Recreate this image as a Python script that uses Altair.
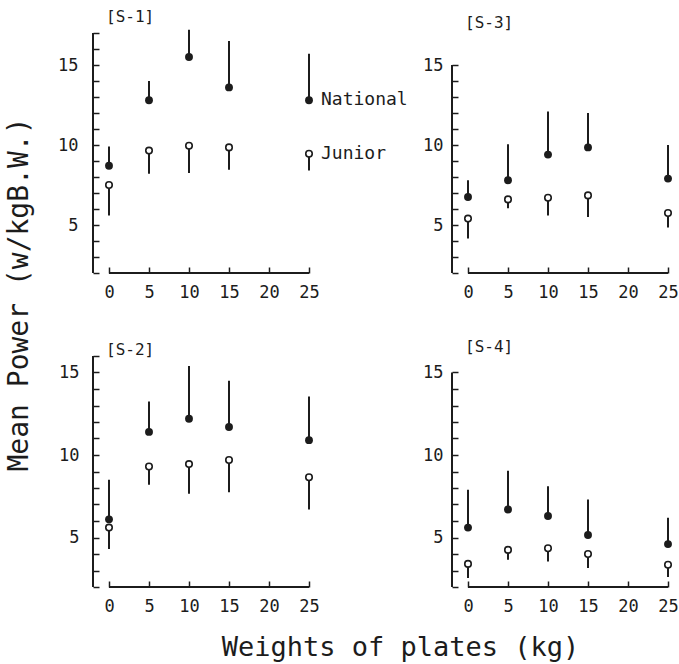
import altair as alt
import pandas as pd

# ---------------- data ----------------
weights = [0, 5, 10, 15, 25]
x_ticks = [0, 5, 10, 15, 20, 25]

s1_nat = [8.7, 12.8, 15.5, 13.6, 12.8]
s1_nat_hi = [9.9, 14.0, 17.2, 16.5, 15.7]
s1_jun = [7.5, 9.65, 9.95, 9.85, 9.45]
s1_jun_lo = [5.6, 8.2, 8.25, 8.45, 8.4]

s3_nat = [6.75, 7.8, 9.4, 9.85, 7.9]
s3_nat_hi = [7.8, 10.05, 12.1, 12.0, 10.0]
s3_jun = [5.4, 6.6, 6.7, 6.85, 5.75]
s3_jun_lo = [4.15, 6.05, 5.6, 5.5, 4.85]

s2_nat = [6.1, 11.4, 12.2, 11.7, 10.9]
s2_nat_hi = [8.5, 13.25, 15.4, 14.5, 13.55]
s2_jun = [5.6, 9.3, 9.45, 9.7, 8.65]
s2_jun_lo = [4.3, 8.2, 7.65, 7.75, 6.7]

s4_nat = [5.6, 6.7, 6.3, 5.15, 4.6]
s4_nat_hi = [7.9, 9.05, 8.1, 7.3, 6.2]
s4_jun = [3.4, 4.25, 4.35, 4.0, 3.35]
s4_jun_lo = [2.55, 3.65, 3.55, 3.15, 2.6]

legend_labels = ["National", "Junior"]
x_title = "Weights of plates (kg)"
y_title = "Mean Power (w/kgB.W.)"

# ---------------- style ----------------
FONT = "DejaVu Sans Mono"
INK = "#1c1c1c"


def panel(title, nat, nat_hi, jun, jun_lo, y_top, axis_top, height,
          title_offset, label_pad, legend=False, xt=None, yt=None):
    df = pd.DataFrame({"w": weights, "nat": nat, "nat_hi": nat_hi,
                       "jun": jun, "jun_lo": jun_lo})
    xs = alt.Scale(domain=[0, 25], nice=False, zero=False)
    ys = alt.Scale(domain=[2, y_top], nice=False, zero=False)
    xkw = dict(values=x_ticks, offset=-6, domain=False, tickSize=6,
               tickWidth=1.5, tickColor=INK, labelPadding=11,
               labelFlush=False, labelFont=FONT, labelFontSize=17,
               labelColor=INK, grid=False, title=None)
    if xt:
        xkw.update(title=xt, titleX=291, titleY=66, titleAlign="center",
                   titleBaseline="middle", titleAngle=0, titleFont=FONT,
                   titleFontSize=27, titleFontWeight="normal",
                   titleColor=INK)
    ykw = dict(values=list(range(2, axis_top + 1)), offset=10,
               domain=False, tickSize=6, tickWidth=1.5, tickColor=INK,
               labelExpr="datum.value % 5 == 0 ? datum.label : ''",
               labelPadding=label_pad, labelOverlap=False,
               labelFont=FONT, labelFontSize=17, labelColor=INK,
               grid=False, title=None)
    if yt:
        ykw.update(title=yt, titleX=-80, titleY=261, titleAlign="center",
                   titleBaseline="middle", titleAngle=270, titleFont=FONT,
                   titleFontSize=28, titleFontWeight="normal",
                   titleColor=INK)
    xax = alt.Axis(**xkw)
    yax = alt.Axis(**ykw)
    X = alt.X("w:Q", scale=xs, axis=xax)

    def Y(f):
        return alt.Y(f, type="quantitative", scale=ys, axis=yax)

    base = alt.Chart(df)
    nat_bar = base.mark_rule(strokeWidth=2, color=INK).encode(
        x=X, y=Y("nat"), y2="nat_hi:Q")
    jun_bar = base.mark_rule(strokeWidth=2, color=INK).encode(
        x=X, y=Y("jun"), y2="jun_lo:Q")
    nat_pt = base.mark_point(shape="circle", filled=True, size=62,
                             color=INK, opacity=1).encode(x=X, y=Y("nat"))
    jun_pt = base.mark_point(shape="circle", filled=True, fill="white",
                             stroke=INK, strokeWidth=1.6, size=42,
                             opacity=1).encode(x=X, y=Y("jun"))

    one = alt.Chart(pd.DataFrame({"k": [0]}))
    y_line = one.mark_rule(strokeWidth=2, color=INK).encode(
        x=alt.X(datum=-2, type="quantitative", scale=xs, axis=xax),
        y=alt.Y(datum=2, type="quantitative", scale=ys, axis=yax),
        y2=alt.datum(axis_top))
    x_line = one.mark_rule(strokeWidth=2, color=INK).encode(
        x=alt.X(datum=0, type="quantitative", scale=xs, axis=xax),
        x2=alt.datum(25),
        y=alt.Y(datum=2, type="quantitative", scale=ys, axis=yax))

    layers = [y_line, x_line, nat_bar, jun_bar, nat_pt, jun_pt]
    if legend:
        leg_df = pd.DataFrame({"w": [weights[-1], weights[-1]],
                               "v": [nat[-1], jun[-1]],
                               "label": legend_labels})
        leg = alt.Chart(leg_df).mark_text(
            align="left", baseline="middle", dx=12, font=FONT, fontSize=18,
            color=INK).encode(x=X, y=Y("v"), text="label:N")
        layers.append(leg)

    return alt.layer(*layers).properties(
        width=200, height=height,
        title=alt.TitleParams(title, anchor="start", frame="group", font=FONT,
                              fontSize=16, fontWeight="normal", color=INK,
                              offset=title_offset, dx=-3))


p1 = panel("[S-1]", s1_nat, s1_nat_hi, s1_jun, s1_jun_lo, 17, 17, 240, -1, 15,
           legend=True, yt=y_title)
p3 = panel("[S-3]", s3_nat, s3_nat_hi, s3_jun, s3_jun_lo, 17, 15, 240, 2, 9)
p2 = panel("[S-2]", s2_nat, s2_nat_hi, s2_jun, s2_jun_lo, 16, 16, 231, -11, 14,
           xt=x_title)
p4 = panel("[S-4]", s4_nat, s4_nat_hi, s4_jun, s4_jun_lo, 16, 15, 231, 1, 9)

chart = alt.concat(p1, p3, p2, p4, columns=2, bounds="flush",
                   spacing={"row": 83, "column": 159}).properties(
    padding={"left": 4, "top": 9, "right": 0, "bottom": 2},
    background="white",
).configure_view(stroke=None)

chart.save("out.html", embed_options={"renderer": "svg", "actions": False})
